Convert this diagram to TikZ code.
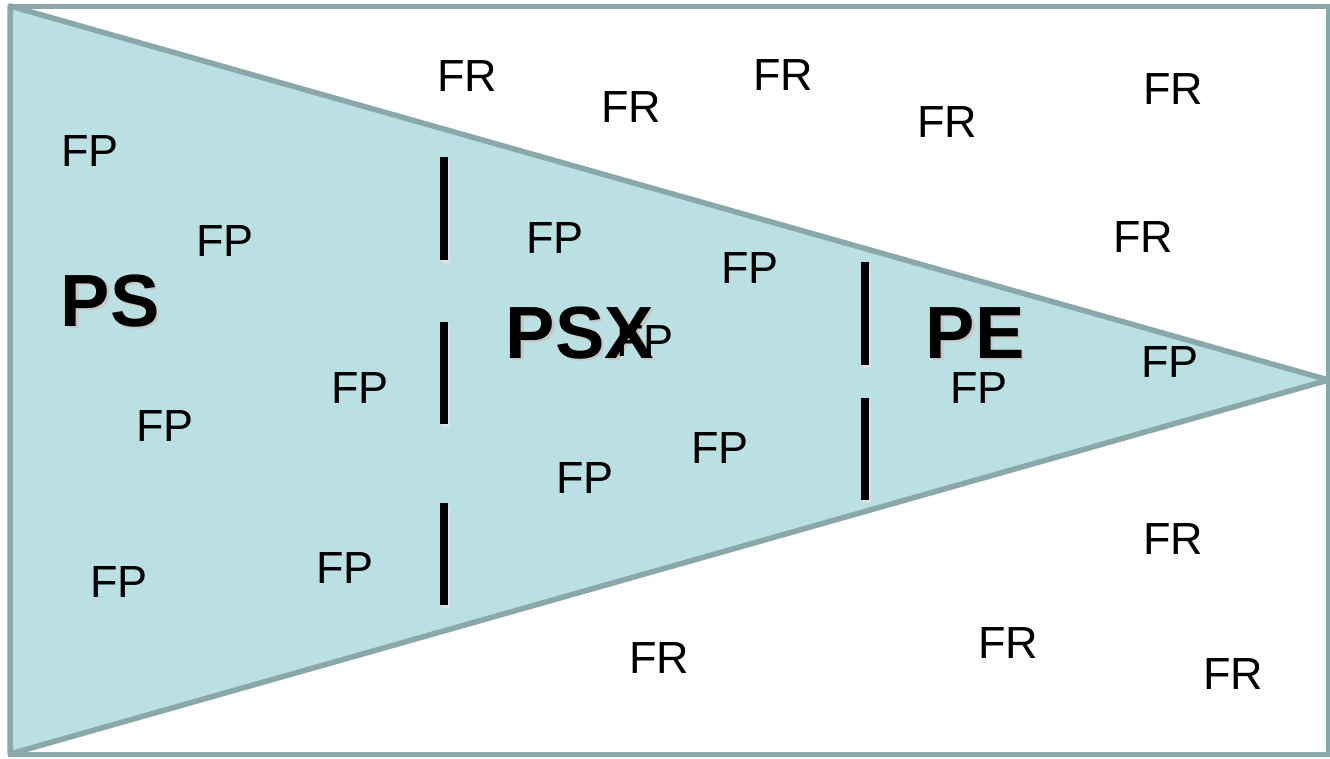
\documentclass[tikz,border=0pt]{standalone}
\usepackage{fontspec}
\setmainfont{Liberation Sans}
\usetikzlibrary{positioning}
\definecolor{funnelfill}{HTML}{BBE0E3}
\definecolor{funnelline}{HTML}{8AA7AA}
\tikzstyle{term}=[inner sep=0pt,font=\fontsize{45}{54}\selectfont]
\tikzstyle{phase}=[inner sep=0pt,font=\fontsize{74}{88}\selectfont\bfseries]
\tikzstyle{phaseshadow}=[phase,text=black!22]
\tikzstyle{gate} = [draw,line width=8pt,-]
\tikzstyle{gateshadow} = [draw=black!12,line width=8pt,-]

\begin{document}
\begin{tikzpicture}[x=1pt,y=-1pt]
    \useasboundingbox (0,0) rectangle (1330,758);
    % Frame and funnel
    \coordinate (tl) at (10,6);
    \coordinate (bl) at (10,754);
    \coordinate (br) at (1328.5,754);
    \coordinate (tip) at (1328.5,380);
    \filldraw[fill=funnelfill,draw=funnelline,line width=5.5pt,line join=round]
        (tl) -- (tip) -- (bl) -- cycle;
    \draw[funnelline,line width=5pt] (tl) rectangle (br);
    % Gates between the phases
    \foreach \x/\a/\b/\name in {444/157/260/ga, 444/322/424/gb, 444/503/605/gc,
                                865/262/365/gd, 865/398/500/ge}
    {
        \coordinate (\name1) at (\x,\a);
        \coordinate (\name2) at (\x,\b);
        \path[gateshadow] ([xshift=2pt,yshift=-3pt]\name1) -- ([xshift=2pt,yshift=-3pt]\name2);
        \path[gate] (\name1) -- (\name2);
    }
    % Phase labels
    \foreach \x/\y/\name in {110/301/PS, 580/333/PSX, 975/333/PE}
    {
        \node[phaseshadow] at (\x+2.5,\y+2.5) {\name};
        \node[phase] (\name) at (\x,\y) {\name};
    }
    % Projects inside the funnel
    \foreach \pos/\name in {{(90,151)/fp1}, {(225,241)/fp2}, {(555,238)/fp3},
                            {(750,268)/fp4}, {(645,341)/fp5}, {(360,388)/fp6},
                            {(165,426)/fp7}, {(119,582)/fp8}, {(345,568)/fp9},
                            {(585,478)/fp10}, {(720,448)/fp11}, {(979,388)/fp12},
                            {(1170,362)/fp13}}
        \node[term] (\name) at \pos {FP};
    % Requests outside the funnel
    \foreach \pos/\name in {{(467,76)/fr1}, {(631,107)/fr2}, {(783,75)/fr3},
                            {(947,122)/fr4}, {(1173,89)/fr5}, {(1143,237)/fr6},
                            {(1173,539)/fr7}, {(659,658)/fr8}, {(1008,643)/fr9},
                            {(1233,674)/fr10}}
        \node[term] (\name) at \pos {FR};
\end{tikzpicture}
\end{document}
